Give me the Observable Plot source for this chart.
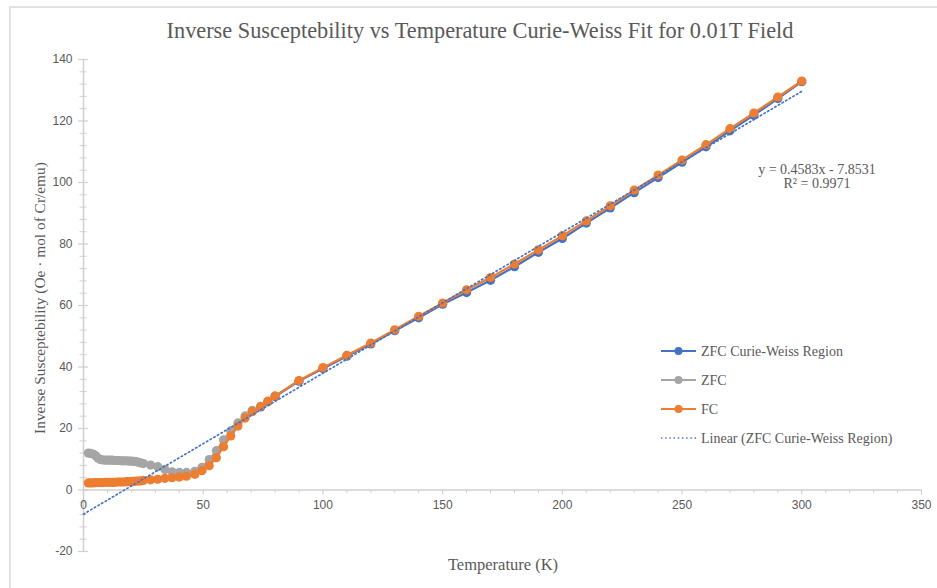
<!DOCTYPE html>
<html>
<head>
<meta charset="utf-8">
<script src="https://cdn.jsdelivr.net/npm/d3@7"></script>
<script src="https://cdn.jsdelivr.net/npm/@observablehq/plot@0.6"></script>
<style>
  html, body { margin: 0; padding: 0; background: #fff; }
  #chart { width: 937px; height: 588px; position: relative; overflow: hidden; }
</style>
</head>
<body>
<div id="chart"></div>
<script>
// ---------------- data ----------------
const titleText = "Inverse Susceptebility vs Temperature Curie-Weiss Fit for 0.01T Field";
const xTitle = "Temperature (K)";
const yTitle = "Inverse Susceptebility (Oe \u00B7 mol of Cr/emu)";

const xTickValues = [0, 50, 100, 150, 200, 250, 300, 350];
const xMinorTicks = [10, 20, 30, 40, 60, 70, 80, 90, 110, 120, 130, 140, 160, 170, 180, 190, 210, 220, 230, 240, 260, 270, 280, 290, 310, 320, 330, 340];
const yTickValues = [-20, 0, 20, 40, 60, 80, 100, 120, 140];
const yMinorTicks = [-16, -12, -8, -4, 4, 8, 12, 16, 24, 28, 32, 36, 44, 48, 52, 56, 64, 68, 72, 76, 84, 88, 92, 96, 104, 108, 112, 116, 124, 128, 132, 136];

// ZFC Curie-Weiss Region (blue)
const cwTemp = [70.5, 74, 77, 80, 90, 100, 110, 120, 130, 140, 150, 160, 170, 180, 190, 200, 210, 220, 230, 240, 250, 260, 270, 280, 290, 300];
const cwChi  = [25.6, 27.0, 28.7, 30.4, 35.4, 39.5, 43.5, 47.5, 51.8, 56.0, 60.4, 64.2, 68.2, 72.6, 77.3, 81.8, 86.8, 91.7, 96.7, 101.6, 106.6, 111.6, 116.8, 121.9, 127.3, 132.8];

// ZFC (grey)
const zfcTemp = [2, 3, 4, 5, 6, 7, 8, 9, 10, 11, 12, 13, 14, 15, 16, 17, 18, 19, 20, 21, 22, 23, 24, 25, 28, 31, 34, 37, 40, 43, 46.5, 49.5, 52.5, 55.5, 58.5, 61.5, 64.5, 67.5, 70.5];
const zfcChi  = [12.0, 11.9, 11.7, 11.2, 10.4, 9.9, 9.8, 9.7, 9.7, 9.7, 9.7, 9.6, 9.6, 9.6, 9.5, 9.5, 9.5, 9.4, 9.4, 9.3, 9.2, 9.0, 8.8, 8.6, 8.1, 7.6, 6.7, 5.9, 5.7, 5.7, 6.1, 7.4, 9.9, 12.8, 16.3, 19.2, 21.8, 24.1, 25.9];

// FC (orange)
const fcTemp = [2, 3, 4, 5, 6, 7, 8, 9, 10, 11, 12, 13, 14, 15, 16, 17, 18, 19, 20, 21, 22, 23, 24, 25, 28, 31, 34, 37, 40, 43, 46.5, 49.5, 52.5, 55.5, 58.5, 61.5, 64.5, 67.5, 70.5, 74, 77, 80, 90, 100, 110, 120, 130, 140, 150, 160, 170, 180, 190, 200, 210, 220, 230, 240, 250, 260, 270, 280, 290, 300];
const fcChi  = [2.3, 2.3, 2.3, 2.4, 2.4, 2.4, 2.4, 2.5, 2.5, 2.5, 2.5, 2.5, 2.6, 2.6, 2.6, 2.6, 2.7, 2.7, 2.8, 2.8, 2.9, 2.9, 3.0, 3.1, 3.3, 3.5, 3.8, 4.0, 4.2, 4.5, 5.1, 6.3, 7.9, 10.5, 14.1, 17.6, 20.8, 23.4, 25.5, 27.2, 28.9, 30.6, 35.6, 39.8, 43.8, 47.8, 52.1, 56.5, 60.8, 65.1, 69.1, 73.5, 78.1, 82.7, 87.5, 92.4, 97.5, 102.4, 107.3, 112.3, 117.5, 122.6, 127.8, 133.0];

// Linear trendline of ZFC Curie-Weiss Region
const fitSlope = 0.4583;
const fitIntercept = -7.8531;
const fitR2 = 0.9971;
const fitRange = [0, 300];

const seriesNames = ["ZFC Curie-Weiss Region", "ZFC", "FC", "Linear (ZFC Curie-Weiss Region)"];
const seriesColors = ["#4472C4", "#A5A5A5", "#ED7D31", "#4472C4"];

// ---------------- tables ----------------
const cw = cwTemp.map((t, i) => ({T: t, v: cwChi[i]}));
const zfc = zfcTemp.map((t, i) => ({T: t, v: zfcChi[i]}));
const fc = fcTemp.map((t, i) => ({T: t, v: fcChi[i]}));
const fit = fitRange.map(t => ({T: t, v: fitSlope * t + fitIntercept}));

const W = 937, H = 588;
const mL = 83, mR = 16, mT = 59, mB = 37;
const axisColor = "#D0D0D0";
const textColor = "#595959";
const sansFont = "'Liberation Sans Narrow', 'Liberation Sans', Arial, sans-serif";
const serifFont = "'Liberation Serif', 'Times New Roman', serif";

// tick length in data units (approx 5px)
const yPerPx = 160 / (H - mT - mB);
const xPerPx = 350 / (W - mL - mR);

const series = (data, color) => [
  Plot.line(data, {x: "T", y: "v", stroke: color, strokeWidth: 2.2}),
  Plot.dot(data, {x: "T", y: "v", fill: color, r: 4.6, stroke: "none"})
];

const svg = Plot.plot({
  width: W,
  height: H,
  marginLeft: mL,
  marginRight: mR,
  marginTop: mT,
  marginBottom: mB,
  style: {background: "transparent", fontFamily: sansFont, fontSize: "12px", color: textColor},
  x: {domain: [0, 350], axis: null},
  y: {domain: [-20, 140], axis: null},
  marks: [
    // axis lines
    Plot.ruleY([0], {stroke: axisColor, strokeWidth: 1.5}),
    Plot.ruleX([0], {stroke: axisColor, strokeWidth: 1.5}),
    // y ticks (crossing)
    Plot.ruleY(yTickValues, {x1: -5 * xPerPx, x2: 5 * xPerPx, stroke: axisColor, strokeWidth: 1.2}),
    Plot.ruleY(yMinorTicks, {x1: -3.5 * xPerPx, x2: 3.5 * xPerPx, stroke: axisColor, strokeWidth: 1}),
    Plot.text(yTickValues, {x: 0, y: d => d, text: d => String(d), textAnchor: "end", dx: -11, fill: textColor, fontSize: 12, fontFamily: sansFont}),
    // x ticks at y = 0
    Plot.ruleX(xTickValues, {y1: 0, y2: -5 * yPerPx, stroke: axisColor, strokeWidth: 1.2}),
    Plot.ruleX(xMinorTicks, {y1: 0, y2: -3.5 * yPerPx, stroke: axisColor, strokeWidth: 1}),
    Plot.text(xTickValues, {x: d => d, y: 0, text: d => String(d), dy: 15, fill: textColor, fontSize: 12, fontFamily: sansFont}),
    // series
    ...series(cw, seriesColors[0]),
    ...series(zfc, seriesColors[1]),
    ...series(fc, seriesColors[2]),
    // trendline
    Plot.line(fit, {x: "T", y: "v", stroke: seriesColors[3], strokeWidth: 1.7, strokeDasharray: "1.4,2.8"})
  ]
});

document.getElementById("chart").appendChild(svg);

const s = d3.select(svg);
// chart border
s.insert("rect", ":first-child")
  .attr("x", 10).attr("y", 7).attr("width", W).attr("height", H)
  .attr("fill", "none").attr("stroke", "#D9D9D9").attr("stroke-width", 1.5);

// title
s.append("text")
  .attr("x", 480).attr("y", 38)
  .attr("text-anchor", "middle")
  .attr("font-family", serifFont).attr("font-size", 22.3)
  .attr("fill", textColor)
  .text(titleText);

// axis titles
s.append("text")
  .attr("x", 503).attr("y", 570)
  .attr("text-anchor", "middle")
  .attr("font-family", serifFont).attr("font-size", 16.5)
  .attr("fill", textColor)
  .text(xTitle);

s.append("text")
  .attr("transform", "translate(45,298) rotate(-90)")
  .attr("text-anchor", "middle")
  .attr("font-family", serifFont).attr("font-size", 15.4)
  .attr("fill", textColor)
  .text(yTitle);

// equation
const eq = s.append("text")
  .attr("text-anchor", "middle")
  .attr("font-family", serifFont).attr("font-size", 14)
  .attr("fill", textColor);
eq.append("tspan").attr("x", 817).attr("y", 174).text(`y = ${fitSlope}x - ${Math.abs(fitIntercept)}`);
eq.append("tspan").attr("x", 817).attr("y", 188).text(`R\u00B2 = ${fitR2}`);

// legend
const lg = s.append("g").attr("text-anchor", "start");
seriesNames.forEach((name, i) => {
  const yy = 351 + i * 29;
  const g = lg.append("g");
  if (i < 3) {
    g.append("line").attr("x1", 661).attr("x2", 696).attr("y1", yy).attr("y2", yy)
      .attr("stroke", seriesColors[i]).attr("stroke-width", 2.2);
    g.append("circle").attr("cx", 678.5).attr("cy", yy).attr("r", 4).attr("fill", seriesColors[i]);
  } else {
    g.append("line").attr("x1", 661).attr("x2", 696).attr("y1", yy).attr("y2", yy)
      .attr("stroke", seriesColors[i]).attr("stroke-width", 1.7).attr("stroke-dasharray", "1.4,2.8");
  }
  g.append("text").attr("x", 701).attr("y", yy + 5)
    .attr("text-anchor", "start")
    .attr("font-family", serifFont).attr("font-size", 14).attr("fill", textColor)
    .text(name);
});
</script>
</body>
</html>
